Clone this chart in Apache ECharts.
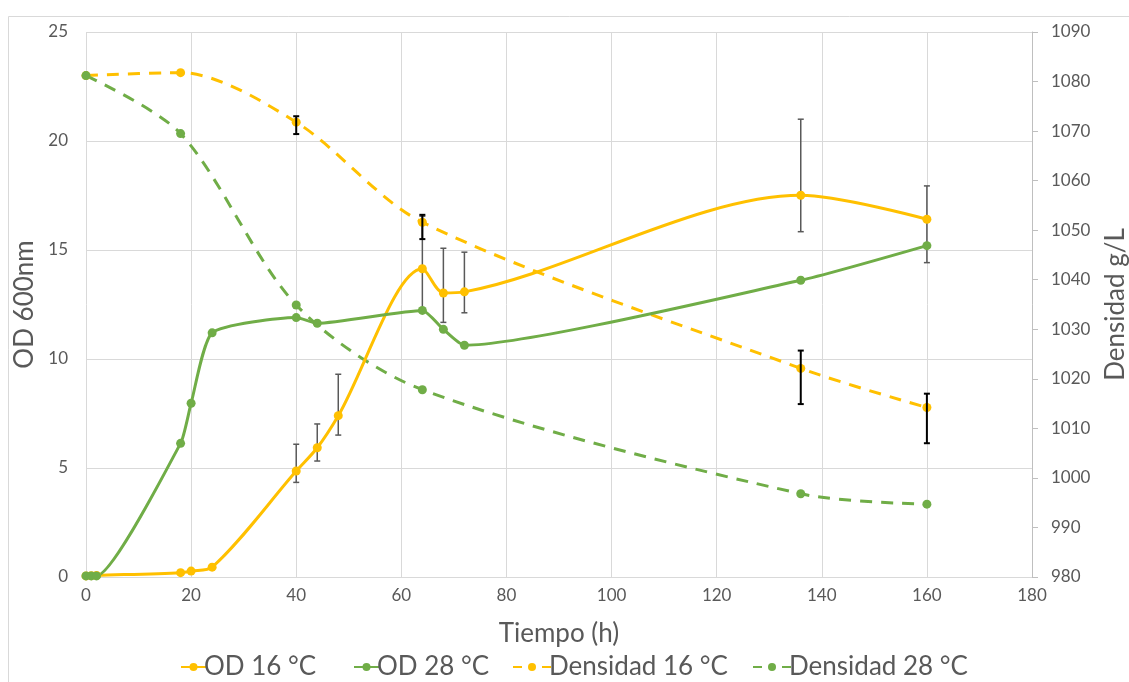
<!DOCTYPE html>
<html>
<head>
<meta charset="utf-8">
<script src="https://cdn.jsdelivr.net/npm/echarts@6/dist/echarts.min.js"></script>
<style>
html,body{margin:0;padding:0;background:#fff;}
#chart{width:1129px;height:682px;}
</style>
</head>
<body>
<div id="chart"></div>
<script>
// ---- data ----
const od16 = [[0,0.05],[1,0.06],[2,0.07],[18,0.2],[20,0.27],[24,0.45],[40,4.86],[44,5.93],[48,7.4],[64,14.14],[68,13.03],[72,13.08],[136,17.51],[160,16.41]];
const od28 = [[0,0.05],[1,0.05],[2,0.05],[18,6.13],[20,7.97],[24,11.2],[40,11.9],[44,11.64],[64,12.23],[68,11.36],[72,10.63],[136,13.61],[160,15.2]];
const dens16 = [[0,1081.2],[18,1081.8],[40,1071.8],[64,1051.6],[136,1022.1],[160,1014.2]];
const dens28 = [[0,1081.2],[18,1069.5],[40,1034.9],[64,1017.8],[136,996.8],[160,994.7]];
// error bars: [time, low, high]
const od16Err = [[40,4.34,6.09],[44,5.32,7.02],[48,6.51,9.3],[64,12.2,16.55],[68,11.68,15.08],[72,12.12,14.9],[136,15.84,21.0],[160,14.42,17.94]];
const dens16Err = [[40,1069.4,1073.0],[64,1048.2,1053.1],[136,1014.9,1025.7],[160,1007.0,1017.0]];
const names = ['OD 16 °C','OD 28 °C','Densidad 16 °C','Densidad 28 °C'];
const xTitle = 'Tiempo (h)', yLeftTitle = 'OD 600nm', yRightTitle = 'Densidad g/L';

const YEL = '#FFC000', GRN = '#70AD47', TXT = '#595959', GRID = '#d9d9d9';
const FONT = 'Lato';

function errRender(color, width) {
  return function (params, api) {
    const x = api.value(0);
    const lo = api.coord([x, api.value(1)]);
    const hi = api.coord([x, api.value(2)]);
    const cap = 3;
    const st = {stroke: color, lineWidth: width};
    return {type: 'group', children: [
      {type: 'line', shape: {x1: lo[0], y1: lo[1], x2: hi[0], y2: hi[1]}, style: st},
      {type: 'line', shape: {x1: lo[0]-cap, y1: lo[1], x2: lo[0]+cap, y2: lo[1]}, style: st},
      {type: 'line', shape: {x1: hi[0]-cap, y1: hi[1], x2: hi[0]+cap, y2: hi[1]}, style: st}
    ]};
  };
}

const legendBase = {top: 649, itemHeight: 10, selectedMode: false,
  textStyle: {fontSize: 26, color: TXT, fontFamily: FONT, padding: [0, 0, 0, -7]}};

const chart = echarts.init(document.getElementById('chart'));
chart.setOption({
  backgroundColor: '#fff',
  animation: false,
  textStyle: {fontFamily: FONT},
  graphic: [{type: 'rect', z: -10, shape: {x: 8.5, y: 16.5, width: 1200, height: 700}, style: {fill: 'none', stroke: GRID, lineWidth: 1}}],
  grid: {left: 86, right: 97, top: 32, bottom: 105, outerBoundsMode: 'none', containLabel: false},
  legend: [
    Object.assign({data: [names[0]], left: 175, itemWidth: 25}, legendBase),
    Object.assign({data: [names[1]], left: 348, itemWidth: 25}, legendBase),
    Object.assign({data: [names[2]], left: 507, itemWidth: 38, lineStyle: {type: [9, 20]}}, legendBase),
    Object.assign({data: [names[3]], left: 747, itemWidth: 38, lineStyle: {type: [9, 20]}}, legendBase)
  ],
  xAxis: {
    type: 'value', min: 0, max: 180, interval: 20,
    name: xTitle, nameLocation: 'middle', nameGap: 44,
    nameTextStyle: {fontSize: 26, color: TXT, fontFamily: FONT},
    axisLine: {show: true, lineStyle: {color: GRID}},
    axisTick: {show: false},
    axisLabel: {fontSize: 17, color: TXT, margin: 10, fontFamily: FONT},
    splitLine: {show: true, lineStyle: {color: GRID}}
  },
  yAxis: [{
    type: 'value', min: 0, max: 25, interval: 5, position: 'left',
    name: yLeftTitle, nameLocation: 'middle', nameGap: 42,
    nameTextStyle: {fontSize: 26, color: TXT, fontFamily: FONT},
    axisLine: {show: false}, axisTick: {show: false},
    axisLabel: {fontSize: 17, color: TXT, margin: 18, fontFamily: FONT},
    splitLine: {show: true, lineStyle: {color: GRID}}
  }, {
    type: 'value', min: 980, max: 1090, interval: 10, position: 'right',
    name: yRightTitle, nameLocation: 'middle', nameGap: 71,
    nameTextStyle: {fontSize: 26, color: TXT, fontFamily: FONT},
    axisLine: {show: true, lineStyle: {color: '#bfbfbf'}},
    axisTick: {show: true, length: 6, lineStyle: {color: '#bfbfbf'}},
    axisLabel: {fontSize: 17, color: TXT, margin: 19, fontFamily: FONT, formatter: function (v) { return String(v); }},
    splitLine: {show: false}
  }],
  series: [
    {type: 'custom', name: 'errOD', yAxisIndex: 0, z: 1, renderItem: errRender('#595959', 1.5), encode: {x: 0, y: [1, 2]}, data: od16Err, silent: true},
    {name: names[0], type: 'line', yAxisIndex: 0, z: 3, data: od16, smooth: 0.3, symbol: 'circle', symbolSize: 9,
      itemStyle: {color: YEL}, lineStyle: {color: YEL, width: 3}},
    {name: names[1], type: 'line', yAxisIndex: 0, z: 3, data: od28, smooth: 0.18, symbol: 'circle', symbolSize: 9,
      itemStyle: {color: GRN}, lineStyle: {color: GRN, width: 3}},
    {name: names[2], type: 'line', yAxisIndex: 1, z: 2, data: dens16, smooth: 0.3, symbol: 'circle', symbolSize: 9,
      itemStyle: {color: YEL}, lineStyle: {color: YEL, width: 3, type: [12, 9]}},
    {name: names[3], type: 'line', yAxisIndex: 1, z: 2, data: dens28, smooth: 0.3, symbol: 'circle', symbolSize: 9,
      itemStyle: {color: GRN}, lineStyle: {color: GRN, width: 3, type: [12, 9]}},
    {type: 'custom', name: 'errDens', yAxisIndex: 1, z: 4, renderItem: errRender('#000', 2), encode: {x: 0, y: [1, 2]}, data: dens16Err, silent: true}
  ]
});
</script>
</body>
</html>
